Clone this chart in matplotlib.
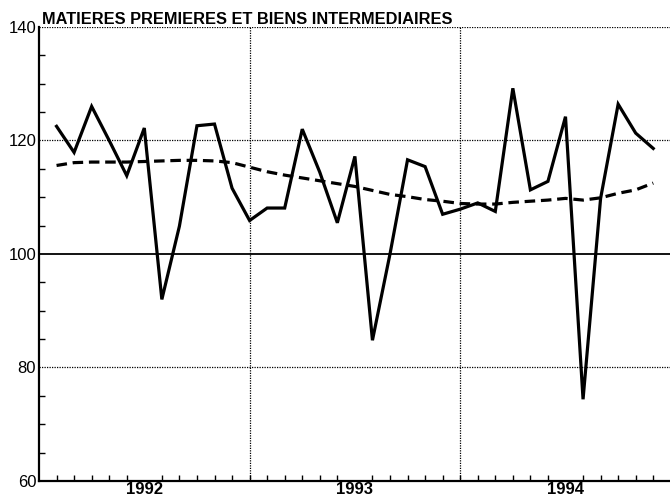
import matplotlib
matplotlib.use("Agg")
import matplotlib.pyplot as plt
import numpy as np

title = "MATIERES PREMIERES ET BIENS INTERMEDIAIRES"
years = ["1992", "1993", "1994"]
months = list(range(1, 36))
index_values = [122.5, 117.9, 126.0, 120.0, 113.8, 122.2, 92.0, 104.9, 122.6, 122.9,
                111.6, 105.9, 108.1, 108.1, 122.0, 114.4, 105.5, 117.2, 84.8, 100.0,
                116.6, 115.4, 107.0, 107.9, 109.0, 107.5, 129.2, 111.3, 112.8, 124.2,
                74.4, 109.8, 126.4, 121.3, 118.6]
trend_values = [115.6, 116.1, 116.2, 116.2, 116.2, 116.3, 116.4, 116.5, 116.5, 116.4,
                116.1, 115.3, 114.5, 113.9, 113.4, 112.9, 112.4, 111.9, 111.2, 110.5,
                110.1, 109.6, 109.3, 108.9, 108.8, 108.8, 109.1, 109.3, 109.5, 109.8,
                109.5, 109.9, 110.7, 111.3, 112.5]
y_ticks = [60, 80, 100, 120, 140]

plt.rcParams['font.family'] = ['Liberation Sans', 'DejaVu Sans']

fig = plt.figure(figsize=(6.70, 4.99), dpi=100)
W, H = 670, 499
x0, x1 = 39, 39 + 36 * 17.55
ytop, ybot = 27, 481
ax = fig.add_axes([x0 / W, 1 - ybot / H, (x1 - x0) / W, (ybot - ytop) / H])

ax.set_xlim(0, 36)
ax.set_ylim(60, 140)

# grid lines
for y in [80, 120, 140]:
    ax.axhline(y, color='black', lw=0.9, ls=(0, (1, 1)), zorder=1)
ax.axhline(100, color='black', lw=1.3, zorder=1)
for xv in [12, 24]:
    ax.axvline(xv, color='black', lw=0.9, ls=(0, (1, 1)), zorder=1)

ax.plot(months, index_values, color='black', lw=2.3, solid_joinstyle='miter', zorder=3)
ax.plot(months, trend_values, color='black', lw=2.3, ls=(0, (3.3, 1.8)), zorder=3)

for s in ['top', 'right']:
    ax.spines[s].set_visible(False)
ax.spines['left'].set_linewidth(1.6)
ax.spines['bottom'].set_linewidth(1.6)

ax.set_yticks(y_ticks)
ax.set_yticklabels([str(v) for v in y_ticks], fontsize=12)
ax.set_yticks(np.arange(60, 141, 5), minor=True)
ax.set_xticks(range(1, 36), minor=True)
ax.set_xticks([6, 18, 30])
ax.set_xticklabels(years, fontsize=12, fontweight='bold')
ax.tick_params(axis='y', which='major', length=0, pad=2)
ax.tick_params(axis='y', which='minor', direction='in', length=4, width=1)
ax.tick_params(axis='x', which='major', length=0, pad=1)
ax.tick_params(axis='x', which='minor', direction='in', length=4, width=1)

fig.text(42 / W, 1 - 24 / H, title, fontsize=11.8, fontweight='bold',
         ha='left', va='baseline')

fig.savefig("out.png", dpi=100)
